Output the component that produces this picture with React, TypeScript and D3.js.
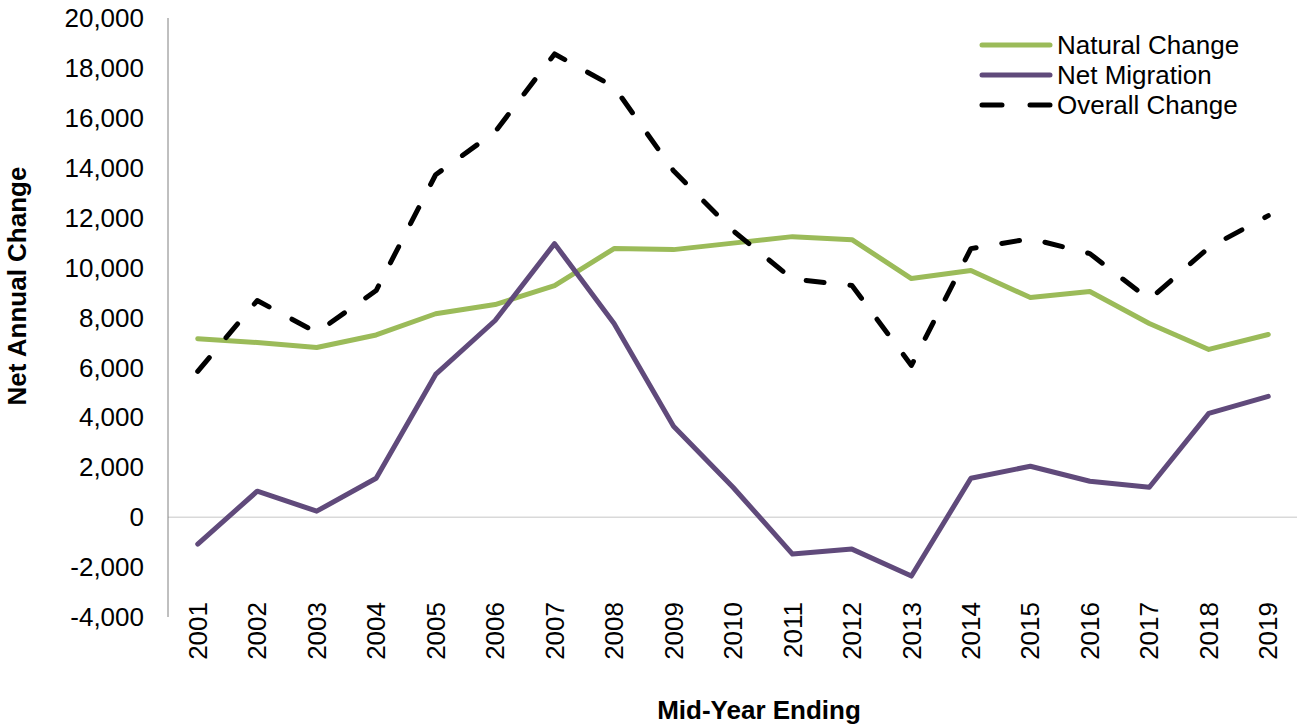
import { useEffect, useRef } from "react";
import * as d3 from "d3";

const years = [
  "2001", "2002", "2003", "2004", "2005", "2006", "2007", "2008", "2009", "2010",
  "2011", "2012", "2013", "2014", "2015", "2016", "2017", "2018", "2019",
];
const naturalChange = [
  7150, 7000, 6800, 7300, 8150, 8520, 9280, 10760, 10720, 10980,
  11240, 11120, 9560, 9880, 8800, 9040, 7760, 6720, 7320,
];
const netMigration = [
  -1080, 1040, 240, 1560, 5720, 7880, 10960, 7760, 3640, 1200,
  -1480, -1280, -2360, 1560, 2040, 1440, 1200, 4160, 4840,
];
const overallChange = [
  5840, 8680, 7400, 9080, 13720, 15440, 18560, 17240, 13880, 11480,
  9540, 9280, 6080, 10760, 11160, 10560, 8720, 10800, 12080,
];
const seriesNames = ["Natural Change", "Net Migration", "Overall Change"];
const yTicks = [-4000, -2000, 0, 2000, 4000, 6000, 8000, 10000, 12000, 14000, 16000, 18000, 20000];

const W = 1297;
const H = 726;
const plot = { left: 168, right: 1298, top: 18, bottom: 617 };
const font = "'Liberation Sans', Arial, sans-serif";
const fs = 26;

const fmt = d3.formatLocale({
  decimal: ".",
  thousands: ",",
  grouping: [3],
  currency: ["", ""],
  minus: "-",
}).format(",");

export default function App() {
  const ref = useRef<SVGSVGElement | null>(null);

  useEffect(() => {
    if (!ref.current) return;
    const svg = d3.select(ref.current);
    svg.selectAll("*").remove();

    const x = d3.scaleBand().domain(years).range([plot.left, plot.right]);
    const cx = (d: string) => (x(d) ?? 0) + x.bandwidth() / 2;
    const y = d3.scaleLinear().domain([-4000, 20000]).range([plot.bottom, plot.top]);

    // zero line
    svg.append("line")
      .attr("x1", plot.left).attr("x2", W)
      .attr("y1", y(0)).attr("y2", y(0))
      .attr("stroke", "#d9d9d9").attr("stroke-width", 1.5);

    // y axis line
    svg.append("line")
      .attr("x1", plot.left).attr("x2", plot.left)
      .attr("y1", plot.top).attr("y2", plot.bottom)
      .attr("stroke", "#808080").attr("stroke-width", 1);

    svg.append("g")
      .selectAll("text")
      .data(yTicks)
      .join("text")
      .attr("x", 144)
      .attr("y", (d) => y(d))
      .attr("dy", "0.35em")
      .attr("text-anchor", "end")
      .attr("font-family", font)
      .attr("font-size", fs)
      .attr("fill", "#000")
      .text((d) => fmt(d));

    svg.append("g")
      .selectAll("text")
      .data(years)
      .join("text")
      .attr("transform", (d) => `translate(${cx(d)},602) rotate(-90)`)
      .attr("dy", "0.35em")
      .attr("text-anchor", "end")
      .attr("font-family", font)
      .attr("font-size", fs)
      .attr("fill", "#000")
      .text((d) => d);

    svg.append("text")
      .attr("transform", "translate(26,286) rotate(-90)")
      .attr("text-anchor", "middle")
      .attr("font-family", font)
      .attr("font-size", fs)
      .attr("font-weight", "bold")
      .text("Net Annual Change");

    svg.append("text")
      .attr("x", 759)
      .attr("y", 719)
      .attr("text-anchor", "middle")
      .attr("font-family", font)
      .attr("font-size", fs)
      .attr("font-weight", "bold")
      .text("Mid-Year Ending");

    const line = d3.line<number>()
      .x((_, i) => cx(years[i]))
      .y((d) => y(d));

    const series = [
      { name: seriesNames[0], values: naturalChange, color: "#9BBB59", dash: null },
      { name: seriesNames[1], values: netMigration, color: "#604A7B", dash: null },
      { name: seriesNames[2], values: overallChange, color: "#000000", dash: "18 26" },
    ];

    series.forEach((s) => {
      svg.append("path")
        .datum(s.values)
        .attr("d", line)
        .attr("fill", "none")
        .attr("stroke", s.color)
        .attr("stroke-width", 5)
        .attr("stroke-linejoin", "round")
        .attr("stroke-linecap", "round")
        .attr("stroke-dasharray", s.dash);
    });

    const legend = svg.append("g");
    series.forEach((s, i) => {
      const ly = 45 + i * 30;
      legend.append("line")
        .attr("x1", 982).attr("x2", 1050)
        .attr("y1", ly).attr("y2", ly)
        .attr("stroke", s.color)
        .attr("stroke-width", 5)
        .attr("stroke-linecap", "round")
        .attr("stroke-dasharray", s.dash ? "20 28" : null);
      legend.append("text")
        .attr("x", 1057)
        .attr("y", ly)
        .attr("dy", "0.35em")
        .attr("font-family", font)
        .attr("font-size", fs)
        .attr("fill", "#000")
        .text(s.name);
    });
  }, []);

  return (
    <svg
      ref={ref}
      width={W}
      height={H}
      style={{ position: "absolute", left: 0, top: 0, background: "#fff" }}
    />
  );
}
